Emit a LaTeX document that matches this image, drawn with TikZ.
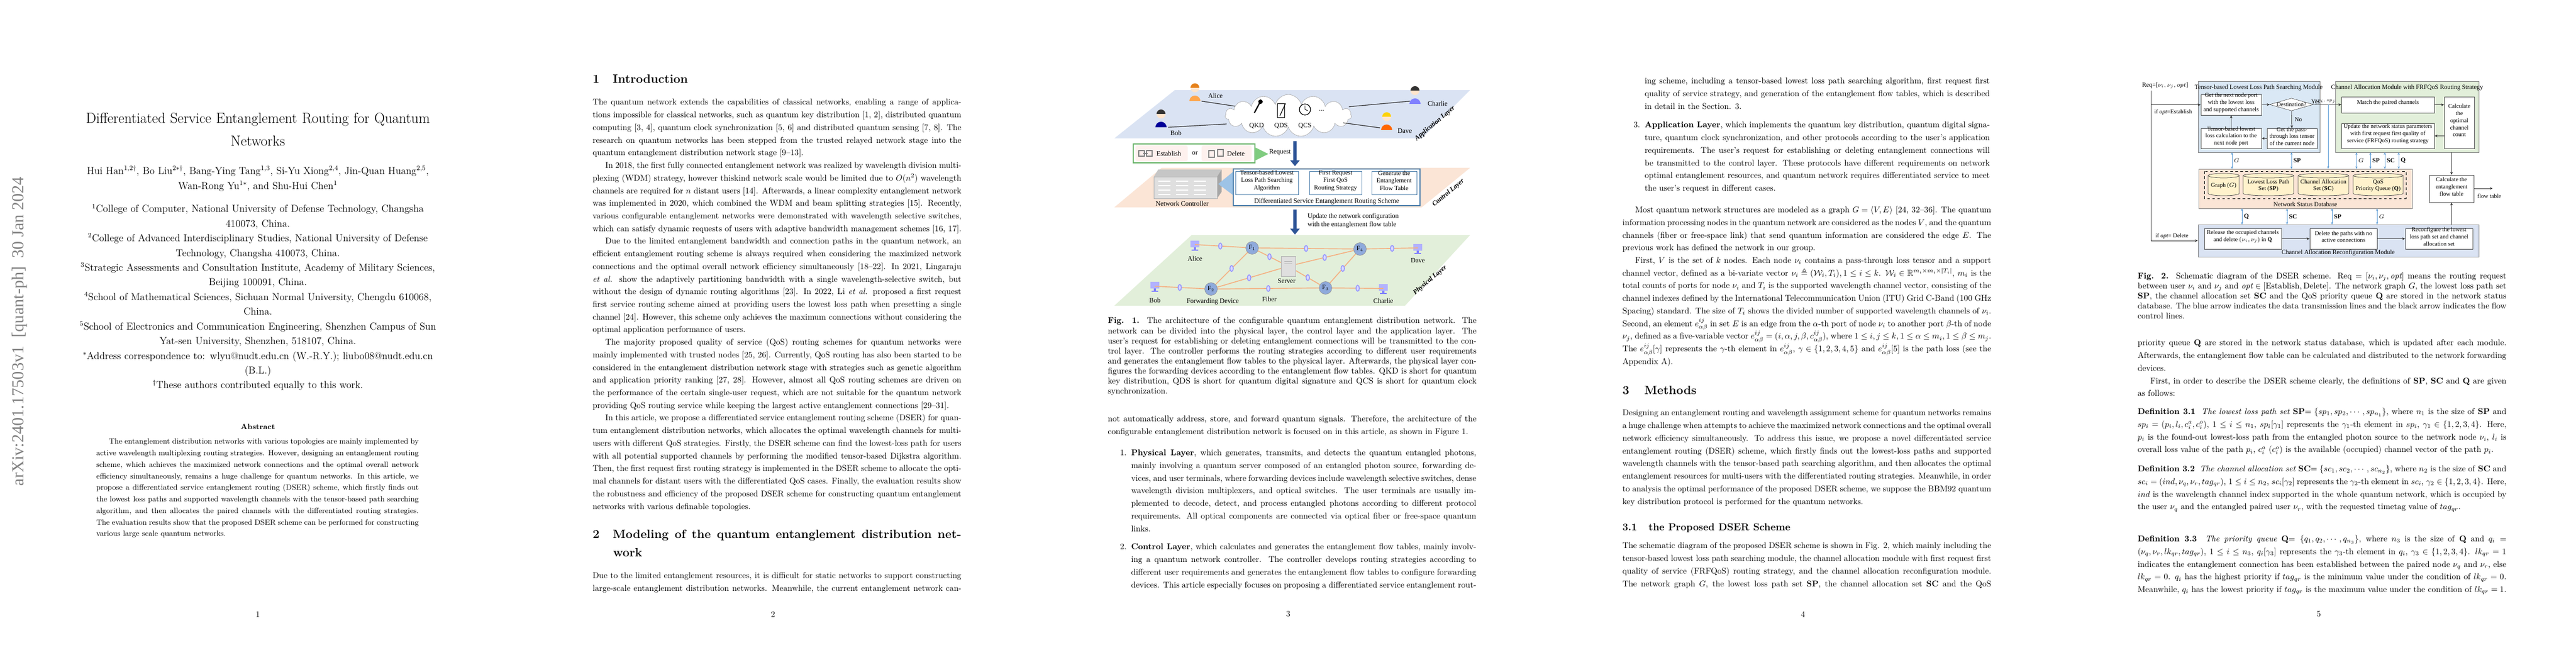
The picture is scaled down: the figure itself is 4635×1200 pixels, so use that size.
\documentclass[tikz,border=0pt]{standalone}
\usepackage{amsmath,amssymb}
\usepackage{fontspec}
\usetikzlibrary{arrows.meta,shapes.geometric,shapes.symbols,fit,positioning}
\newfontfamily\figfont{Liberation Serif}
\newfontfamily\stampfont{Liberation Serif}
\definecolor{appblue}{RGB}{218,227,243}
\definecolor{ctrlpeach}{RGB}{251,229,214}
\definecolor{phygreen}{RGB}{226,239,218}
\definecolor{cylyellow}{RGB}{255,242,204}
\definecolor{modblue}{RGB}{218,232,245}
\definecolor{linkblue}{RGB}{91,155,213}
\definecolor{fiber}{RGB}{244,177,131}
\definecolor{darkarrow}{RGB}{47,85,151}
\tikzset{
  body/.style={anchor=north west, inner sep=0pt, text width=438pt, align=justify, font=\fontsize{10}{15}\selectfont},
  itembody/.style={body, text width=410pt},
  capt/.style={body, font=\fontsize{10}{11.9}\selectfont},
  pnum/.style={inner sep=0pt, font=\fontsize{10}{12}\selectfont},
  sect/.style={anchor=base west, inner sep=0pt, font=\fontsize{14.4}{18}\selectfont\bfseries},
  flab/.style={inner sep=1pt, font=\figfont\fontsize{8}{9.5}\selectfont, align=center},
  fbox/.style={draw=black!70, fill=white, inner sep=0pt, align=center, font=\figfont\fontsize{7}{8.4}\selectfont},
  mtitle/.style={inner sep=0pt, font=\figfont\fontsize{7.5}{9}\selectfont},
  carrow/.style={draw=black!80, line width=0.5pt, -{Stealth[length=3.5pt,width=3pt]}},
  barrow/.style={draw=linkblue, line width=0.6pt, {Stealth[length=3pt,width=2.5pt]}-{Stealth[length=3pt,width=2.5pt]}},
  bigarrow/.style={line width=4pt, draw=darkarrow, -{Triangle[length=7pt,width=11pt]}},
  ulink/.style={draw=black!80, line width=0.8pt},
  flink/.style={draw=fiber, line width=1.1pt},
  router/.style={circle, fill={rgb,255:red,143;green,170;blue,220}, draw=black!40, minimum size=15pt, inner sep=0pt, font=\figfont\fontsize{7.5}{8}\selectfont},
  bulb/.style={ellipse, fill=blue!15, draw=blue!40, minimum width=4pt, minimum height=7pt, inner sep=0pt},
  pinkbox/.style={fill=ctrlpeach!80!red!20, rounded corners=2pt, inner sep=0pt},
  layer/.style={inner sep=0pt, font=\figfont\fontsize{8}{9}\selectfont\bfseries\itshape, rotate=40},
  pics/person/.style n args={2}{code={
    \fill[#1] (-10,24) arc[start angle=180, end angle=360, radius=10] -- cycle;
    \fill[orange!20!white] (0,0) circle (8);
    \fill[#2] (-8,0) arc[start angle=180, end angle=360, radius=8] -- cycle;}},
  pics/pc/.style={code={
    \fill[blue!30] (-8,-14) rectangle (8,-2);
    \fill[blue!50] (-2,-2) rectangle (2,2);
    \fill[blue!50] (-6,2) rectangle (6,4);}}
}
\newcommand{\ind}{\hspace*{15pt}}
\begin{document}
\begin{tikzpicture}[x=0.6602pt, y=-0.6602pt]
\useasboundingbox (0,0) rectangle (4635,1200);
\fill[white] (0,0) rectangle (4635,1200);

% page 1
\begin{scope}
  \node[rotate=90, text=black!50, font=\stampfont\fontsize{20}{20}\selectfont] (stamp) at (35,596) {arXiv:2401.17503v1\ \ [quant-ph]\ \ 30 Jan 2024};
  \node[anchor=north, inner sep=0pt, text width=470pt, align=center, font=\fontsize{17.28}{27}\selectfont] (title) at (464,203)
    {Differentiated Service Entanglement Routing for Quantum\\Networks};
  \node[anchor=north, inner sep=0pt, text width=450pt, align=center, font=\fontsize{12}{17.8}\selectfont] (authors) at (464,298)
    {Hui Han$^{1,2\dagger}$, Bo Liu$^{2*\dagger}$, Bang-Ying Tang$^{1,3}$, Si-Yu Xiong$^{2,4}$, Jin-Quan Huang$^{2,5}$,\\Wan-Rong Yu$^{1*}$, and Shu-Hui Chen$^{1}$};
  \node[anchor=north, inner sep=0pt, text width=450pt, align=center, font=\fontsize{12}{17.45}\selectfont] (affil) at (464,367)
    {$^{1}$College of Computer, National University of Defense Technology, Changsha\\410073, China.\\
     $^{2}$College of Advanced Interdisciplinary Studies, National University of Defense\\Technology, Changsha 410073, China.\\
     $^{3}$Strategic Assessments and Consultation Institute, Academy of Military Sciences,\\Beijing 100091, China.\\
     $^{4}$School of Mathematical Sciences, Sichuan Normal University, Chengdu 610068,\\China.\\
     $^{5}$School of Electronics and Communication Engineering, Shenzhen Campus of Sun\\Yat-sen University, Shenzhen, 518107, China.\\
     $^{*}$Address correspondence to: wlyu@nudt.edu.cn (W.-R.Y.); liubo08@nudt.edu.cn\\(B.L.)\\
     $^{\dagger}$These authors contributed equally to this work.};
  \node[inner sep=0pt, font=\fontsize{9}{11}\selectfont\bfseries] (abshead) at (464,768) {Abstract};
  \node[body, text width=383pt, font=\fontsize{9}{13.7}\selectfont] (abstract) at (173,789)
    {\ind The entanglement distribution networks with various topologies are mainly implemented by active wavelength multiplexing routing strategies. However, designing an entanglement routing scheme, which achieves the maximized network connections and the optimal overall network efficiency simultaneously, remains a huge challenge for quantum networks. In this article, we propose a differentiated service entanglement routing (DSER) scheme, which firstly finds out the lowest loss paths and supported wavelength channels with the tensor-based path searching algorithm, and then allocates the paired channels with the differentiated routing strategies. The evaluation results show that the proposed DSER scheme can be performed for constructing various large scale quantum networks.};
  \node[pnum] (p1) at (464,1105) {1};
\end{scope}

% page 2
\begin{scope}[shift={(927,0)}]
  \node[sect] (s1) at (139,150) {\makebox[24pt][l]{1}Introduction};
  \node[body] (intro) at (139,178)
    {The quantum network extends the capabilities of classical networks, enabling a range of applications impossible for classical networks, such as quantum key distribution [1, 2], distributed quantum computing [3, 4], quantum clock synchronization [5, 6] and distributed quantum sensing [7, 8]. The research on quantum networks has been stepped from the trusted relayed network stage into the quantum entanglement distribution network stage [9--13].\par
    \ind In 2018, the first fully connected entanglement network was realized by wavelength division multiplexing (WDM) strategy, however thiskind network scale would be limited due to $O(n^2)$ wavelength channels are required for $n$ distant users [14]. Afterwards, a linear complexity entanglement network was implemented in 2020, which combined the WDM and beam splitting strategies [15]. Recently, various configurable entanglement networks were demonstrated with wavelength selective switches, which can satisfy dynamic requests of users with adaptive bandwidth management schemes [16, 17].\par
    \ind Due to the limited entanglement bandwidth and connection paths in the quantum network, an efficient entanglement routing scheme is always required when considering the maximized network connections and the optimal overall network efficiency simultaneously [18--22]. In 2021, Lingaraju \emph{et al.} show the adaptively partitioning bandwidth with a single wavelength-selective switch, but without the design of dynamic routing algorithms [23]. In 2022, Li \emph{et al.} proposed a first request first service routing scheme aimed at providing users the lowest loss path when presetting a single channel [24]. However, this scheme only achieves the maximum connections without considering the optimal application performance of users.\par
    \ind The majority proposed quality of service (QoS) routing schemes for quantum networks were mainly implemented with trusted nodes [25, 26]. Currently, QoS routing has also been started to be considered in the entanglement distribution network stage with strategies such as genetic algorithm and application priority ranking [27, 28]. However, almost all QoS routing schemes are driven on the performance of the certain single-user request, which are not suitable for the quantum network providing QoS routing service while keeping the largest active entanglement connections [29--31].\par
    \ind In this article, we propose a differentiated service entanglement routing scheme (DSER) for quantum entanglement distribution networks, which allocates the optimal wavelength channels for multi-users with different QoS strategies. Firstly, the DSER scheme can find the lowest-loss path for users with all potential supported channels by performing the modified tensor-based Dijkstra algorithm. Then, the first request first routing strategy is implemented in the DSER scheme to allocate the optimal channels for distant users with the differentiated QoS cases. Finally, the evaluation results show the robustness and efficiency of the proposed DSER scheme for constructing quantum entanglement networks with various definable topologies.};
  \node[sect] (s2) at (139,968) {\makebox[438pt][s]{\makebox[24pt][l]{2}Modeling of the quantum entanglement distribution net-}};
  \node[sect] (s2b) at (176,1001) {work};
  \node[body] (model) at (139,1030)
    {Due to the limited entanglement resources, it is difficult for static networks to support constructing large-scale entanglement distribution networks. Meanwhile, the current entanglement network can-\parfillskip=0pt\par};
  \node[pnum] (p2) at (464,1105) {2};
\end{scope}

% page 3: figure 1
\begin{scope}[shift={(1854,0)}]
  % layers
  \fill[appblue] (260,162) -- (791,162) -- (704,249) -- (151,249) -- cycle;
  \fill[ctrlpeach] (236,302) -- (791,302) -- (704,373) -- (151,373) -- cycle;
  \fill[phygreen] (290,423) -- (791,423) -- (674,550) -- (151,550) -- cycle;
  \node[layer] (lapp) at (728,222) {Application Layer};
  \node[layer] (lctrl) at (752,347) {Control Layer};
  \node[layer] (lphy) at (719,504) {Physical Layer};
  % application layer
  \node[cloud, cloud puffs=15, aspect=3, draw=gray!70, fill=white, minimum width=150pt, minimum height=50pt] (svc) at (464,208) {};
  \draw[line width=1.5pt] (403,203) -- (412,186);
  \fill (414,183) circle (4);
  \draw[fill=white, line width=0.6pt] (444,186) rectangle (457,211);
  \draw[line width=0.8pt] (449,208) -- (459,186);
  \draw[fill=white, line width=0.8pt] (494,197) circle (10);
  \draw[line width=0.6pt] (494,197) -- (494,190) (494,197) -- (499,199);
  \node[flab] (qkd) at (407,226) {QKD};
  \node[flab] (qds) at (451,226) {QDS};
  \node[flab] (qcs) at (494,226) {QCS};
  \node[flab] (more) at (524,199) {...};
  \pic at (296,158) {person={orange!70}{orange!60!brown}};
  \pic at (235,205) {person={blue!60!black}{black!80}};
  \pic at (692,163) {person={blue!50}{black!80}};
  \pic at (641,210) {person={orange!80!red}{yellow!70!orange}};
  \node[flab, anchor=west] (alice) at (318,172) {Alice};
  \node[flab, anchor=west] (bob) at (250,239) {Bob};
  \node[flab, anchor=west] (charlie) at (713,186) {Charlie};
  \node[flab, anchor=west] (dave) at (659,236) {Dave};
  \coordinate (ua) at (308,182); \coordinate (ca) at (368,191);
  \coordinate (ub) at (248,229); \coordinate (cb) at (353,223);
  \coordinate (uc) at (683,182); \coordinate (cc) at (573,192);
  \coordinate (ud) at (629,230); \coordinate (cd) at (563,221);
  \draw[ulink] (ua) -- (ca);
  \draw[ulink] (ub) -- (cb);
  \draw[ulink] (uc) -- (cc);
  \draw[ulink] (ud) -- (cd);
  % request
  \node[draw=green!50!black!60, line width=1pt, fill=white, inner sep=0pt, fit={(185,259) (404,293)}] (reqbox) {};
  \node[pinkbox, fit={(189,262) (283,290)}] (estb) {};
  \node[pinkbox, fit={(308,262) (398,290)}] (delb) {};
  \draw[gray, line width=0.8pt] (195,271) rectangle (205,281) (209,271) rectangle (219,281) (203,276) -- (211,276);
  \draw[gray, line width=0.8pt] (321,271) rectangle (331,283) (337,269) rectangle (347,281);
  \node[flab, anchor=west] (estl) at (225,276) {Establish};
  \node[flab] (orl) at (296,276) {or};
  \node[flab, anchor=west] (dell) at (352,276) {Delete};
  \fill[green!60!black!50] (404,265) -- (428,277) -- (404,289) -- cycle;
  \node[flab] (reql) at (449,274) {Request};
  \coordinate (r1) at (476,254); \coordinate (r2) at (476,299);
  \draw[bigarrow] (r1) -- (r2);
  % control layer
  \fill[gray!45] (222,318) -- (230,305) -- (344,305) -- (336,318) -- cycle;
  \fill[gray!70] (336,318) -- (344,305) -- (344,345) -- (336,357) -- cycle;
  \node[fill=gray!25, draw=gray!60, inner sep=0pt, fit={(222,318) (336,357)}] (ctrl) {};
  \foreach \yy in {326,334,342,350} {
    \foreach \xx in {230,262,294} {\draw[white, line width=1.2pt] (\xx,\yy) -- (\xx+22,\yy);}}
  \node[flab] (ctrll) at (273,366) {Network Controller};
  \fill[linkblue!60] (338,331) -- (366,308) -- (366,352) -- cycle;
  \node[draw=linkblue!80!black, line width=0.8pt, fill=white, inner sep=0pt, fit={(365,304) (701,370)}] (scheme) {};
  \node[draw=linkblue!80!black, fill=white, inner sep=0pt, align=center, fit={(369,308) (482,350)}, font=\figfont\fontsize{7.5}{9}\selectfont] (tlps) {Tensor-based Lowest\\Loss Path Searching\\Algorithm};
  \node[draw=linkblue!80!black, fill=white, inner sep=0pt, align=center, fit={(502,308) (596,350)}, font=\figfont\fontsize{7.5}{9}\selectfont] (frfq) {First Request\\First QoS\\Routing Strategy};
  \node[draw=linkblue!80!black, fill=white, inner sep=0pt, align=center, fit={(614,308) (695,350)}, font=\figfont\fontsize{7.5}{9}\selectfont] (gen) {Generate the\\Entanglement\\Flow Table};
  \node[flab] (schemel) at (533,363) {Differentiated Service Entanglement Routing Scheme};
  \coordinate (r3) at (476,377); \coordinate (r4) at (476,422);
  \draw[bigarrow] (r3) -- (r4);
  \node[flab, anchor=west, align=left] (updl) at (497,397) {Update the network configuration\\with the entanglement flow table};
  % physical layer
  \node[router] (F1) at (399,446) {F$_1$};
  \node[router] (F4) at (593,448) {F$_4$};
  \node[router] (F2) at (325,520) {F$_2$};
  \node[router] (F3) at (531,518) {F$_3$};
  \node[fill=gray!25, draw=gray!60, minimum width=17pt, minimum height=24pt, inner sep=0pt] (srv) at (464,479) {};
  \node[flab] (srvl) at (461,506) {Server};
  \pic at (296,447) {pc}; \pic at (697,453) {pc}; \pic at (224,521) {pc}; \pic at (635,525) {pc};
  \coordinate (pa) at (296,440); \coordinate (pd) at (697,446);
  \coordinate (pb) at (224,515); \coordinate (pc) at (635,519);
  \node[flab] (alicep) at (296,465) {Alice};
  \node[flab] (davep) at (697,469) {Dave};
  \node[flab] (bobp) at (224,540) {Bob};
  \node[flab] (charliep) at (635,541) {Charlie};
  \node[flab] (fwd) at (328,543) {Forwarding Device};
  \node[flab] (fib) at (430,538) {Fiber};
  \draw[flink] (pa) -- node[bulb]{} (F1);
  \draw[flink] (F1) -- node[bulb]{} (F4);
  \draw[flink] (F4) -- node[bulb]{} (pd);
  \draw[flink] (pb) -- node[bulb]{} (F2);
  \draw[flink] (F2) -- node[bulb]{} (F3);
  \draw[flink] (F3) -- node[bulb]{} (pc);
  \draw[flink] (F1) -- node[bulb]{} (F2);
  \draw[flink] (F4) -- node[bulb]{} (F3);
  \draw[flink] (srv) -- node[bulb]{} (F1);
  \draw[flink] (srv) -- node[bulb]{} (F4);
  \draw[flink] (srv) -- node[bulb]{} (F2);
  \draw[flink] (srv) -- node[bulb]{} (F3);
  \node[router] at (F1) {F$_1$}; \node[router] at (F4) {F$_4$};
  \node[router] at (F2) {F$_2$}; \node[router] at (F3) {F$_3$};
  \node[fill=gray!25, draw=gray!60, minimum width=17pt, minimum height=24pt, inner sep=0pt] at (srv) {};
  \draw[gray!60] (457,470) -- (471,470) (457,474) -- (471,474);
  % text
  \node[capt] (cap1) at (139,571)
    {\textbf{Fig. 1.}\ \ The architecture of the configurable quantum entanglement distribution network. The network can be divided into the physical layer, the control layer and the application layer. The user's request for establishing or deleting entanglement connections will be transmitted to the control layer. The controller performs the routing strategies according to different user requirements and generates the entanglement flow tables to the physical layer. Afterwards, the physical layer configures the forwarding devices according to the entanglement flow tables. QKD is short for quantum key distribution, QDS is short for quantum digital signature and QCS is short for quantum clock synchronization.};
  \node[body] (arch) at (139,748)
    {not automatically address, store, and forward quantum signals. Therefore, the architecture of the configurable entanglement distribution network is focused on in this article, as shown in Figure 1.};
  \node[anchor=north west, inner sep=0pt, font=\fontsize{10}{15}\selectfont] (n1) at (161,809) {1.};
  \node[itembody] (item1) at (181,809)
    {\textbf{Physical Layer}, which generates, transmits, and detects the quantum entangled photons, mainly involving a quantum server composed of an entangled photon source, forwarding devices, and user terminals, where forwarding devices include wavelength selective switches, dense wavelength division multiplexers, and optical switches. The user terminals are usually implemented to decode, detect, and process entangled photons according to different protocol requirements. All optical components are connected via optical fiber or free-space quantum links.};
  \node[anchor=north west, inner sep=0pt, font=\fontsize{10}{15}\selectfont] (n2) at (161,978) {2.};
  \node[itembody] (item2) at (181,978)
    {\textbf{Control Layer}, which calculates and generates the entanglement flow tables, mainly involving a quantum network controller. The controller develops routing strategies according to different user requirements and generates the entanglement flow tables to configure forwarding devices. This article especially focuses on proposing a differentiated service entanglement rout-\parfillskip=0pt\par};
  \node[pnum] (p3) at (464,1105) {3};
\end{scope}

% page 4
\begin{scope}[shift={(2781,0)}]
  \node[itembody] (item2b) at (178,140)
    {ing scheme, including a tensor-based lowest loss path searching algorithm, first request first quality of service strategy, and generation of the entanglement flow tables, which is described in detail in the Section. 3.};
  \node[anchor=north west, inner sep=0pt, font=\fontsize{10}{15}\selectfont] (n3) at (158,219) {3.};
  \node[itembody] (item3) at (178,219)
    {\textbf{Application Layer}, which implements the quantum key distribution, quantum digital signature, quantum clock synchronization, and other protocols according to the user's application requirements. The user's request for establishing or deleting entanglement connections will be transmitted to the control layer. These protocols have different requirements on network optimal entanglement resources, and quantum network requires differentiated service to meet the user's request in different cases.};
  \node[body] (graph) at (138,371)
    {\ind Most quantum network structures are modeled as a graph $G=\langle V,E\rangle$ [24, 32--36]. The quantum information processing nodes in the quantum network are considered as the nodes $V$, and the quantum channels (fiber or free-space link) that send quantum information are considered the edge $E$. The previous work has defined the network in our group.\par
    \ind First, $V$ is the set of $k$ nodes. Each node $\nu_i$ contains a pass-through loss tensor and a support channel vector, defined as a bi-variate vector $\nu_i \triangleq (\mathcal{W}_i,T_i), 1\le i\le k$. $\mathcal{W}_i\in\mathbb{R}^{m_i\times m_i\times|T_i|}$, $m_i$ is the total counts of ports for node $\nu_i$ and $T_i$ is the supported wavelength channel vector, consisting of the channel indexes defined by the International Telecommunication Union (ITU) Grid C-Band (100 GHz Spacing) standard. The size of $T_i$ shows the divided number of supported wavelength channels of $\nu_i$. Second, an element $e^{ij}_{\alpha\beta}$ in set $E$ is an edge from the $\alpha$-th port of node $\nu_i$ to another port $\beta$-th of node $\nu_j$, defined as a five-variable vector $e^{ij}_{\alpha\beta}=(i,\alpha,j,\beta,c^{ij}_{\alpha\beta})$, where $1\le i,j\le k,1\le \alpha\le m_i,1\le\beta\le m_j$. The $e^{ij}_{\alpha\beta}[\gamma]$ represents the $\gamma$-th element in $e^{ij}_{\alpha\beta}$, $\gamma\in\{1,2,3,4,5\}$ and $e^{ij}_{\alpha\beta}[5]$ is the path loss (see the Appendix A).};
  \node[sect] (s3) at (138,709) {\makebox[26pt][l]{3}Methods};
  \node[body] (methods) at (138,737)
    {Designing an entanglement routing and wavelength assignment scheme for quantum networks remains a huge challenge when attempts to achieve the maximized network connections and the optimal overall network efficiency simultaneously. To address this issue, we propose a novel differentiated service entanglement routing (DSER) scheme, which firstly finds out the lowest-loss paths and supported wavelength channels with the tensor-based path searching algorithm, and then allocates the optimal entanglement resources for multi-users with the differentiated routing strategies. Meanwhile, in order to analysis the optimal performance of the proposed DSER scheme, we suppose the BBM92 quantum key distribution protocol is performed for the quantum networks.};
  \node[sect, font=\fontsize{12}{15}\selectfont\bfseries] (s31) at (138,954) {\makebox[31pt][l]{3.1}the Proposed DSER Scheme};
  \node[body] (scheme) at (138,976)
    {The schematic diagram of the proposed DSER scheme is shown in Fig. 2, which mainly including the tensor-based lowest loss path searching module, the channel allocation module with first request first quality of service (FRFQoS) routing strategy, and the channel allocation reconfiguration module. The network graph $G$, the lowest loss path set \textbf{SP}, the channel allocation set \textbf{SC} and the QoS\parfillskip=0pt\par};
  \node[pnum] (p4) at (463,1105) {4};
\end{scope}

% page 5: figure 2
\begin{scope}[shift={(3708,0)}]
  \node[fill=modblue, draw=black!50, inner sep=0pt, fit={(247,146) (466,274)}] (m1) {};
  \node[fill=phygreen, draw=black!50, inner sep=0pt, fit={(494,146) (752,274)}] (m2) {};
  \node[fill=ctrlpeach, draw=black!50, inner sep=0pt, fit={(248,304) (632,375)}] (db) {};
  \node[fill=appblue, draw=black!50, inner sep=0pt, fit={(247,404) (752,462)}] (m3) {};
  \node[mtitle] (m1t) at (356,158) {Tensor-based Lowest Loss Path Searching Module};
  \node[mtitle] (m2t) at (623,158) {Channel Allocation Module with FRFQoS Routing Strategy};
  \node[mtitle] (dbt) at (440,368) {Network Status Database};
  \node[mtitle] (m3t) at (499,455) {Channel Allocation Reconfiguration Module};
  \draw[dashed, line width=0.6pt] (258,308) rectangle (621,357);
  \node[fbox, fit={(252,170) (361,207)}] (a) {Get the next node port\\with the lowest loss\\and supported channels};
  \node[diamond, draw=black!70, fill=white, aspect=3.5, minimum width=52pt, minimum height=15pt, inner sep=0pt, font=\figfont\fontsize{7}{8}\selectfont] (dest) at (415,188) {Destination?};
  \node[fbox, fit={(371,231) (461,267)}] (b) {Get the pass-\\through loss tensor\\of the current node};
  \node[fbox, fit={(252,231) (361,267)}] (c) {Tensor-based lowest\\loss calculation to the\\next node port};
  \node[fbox, fit={(505,174) (672,203)}] (match) {Match the paired channels};
  \node[fbox, fit={(690,174) (744,267)}] (calc) {Calculate\\the\\optimal\\channel\\count};
  \node[fbox, fit={(505,222) (672,267)}] (upd) {Update the network status parameters\\with first request first quality of\\service (FRFQoS) routing strategy};
  \node[fbox, fit={(663,315) (743,364)}] (flow) {Calculate the\\entanglement\\flow table};
  \node[fbox, fit={(258,411) (397,448)}] (rel) {Release the occupied channels\\and delete $(\nu_i,\nu_j)$ in $\mathbf{Q}$};
  \node[fbox, fit={(448,411) (569,448)}] (del) {Delete the paths with no\\active connections};
  \node[fbox, fit={(620,411) (741,448)}] (rec) {Reconfigure the lowest\\loss path set and channel\\allocation set};
  % database cylinders
  \foreach \xa/\xb/\cname/\ctext in {265/321/cg/{Graph ($G$)}, 328/419/csp/{Lowest Loss Path\\Set (\textbf{SP})}, 427/518/csc/{Channel Allocation\\Set (\textbf{SC})}, 526/616/cq/{QoS\\Priority Queue (\textbf{Q})}} {
    \draw[fill=cylyellow, draw=black!70, line width=0.5pt] (\xa,316) -- (\xa,348) arc[start angle=180, end angle=0, x radius={(\xb-\xa)/2}, y radius=4] -- (\xb,316);
    \draw[fill=cylyellow, draw=black!70, line width=0.5pt] ({(\xa+\xb)/2},316) ellipse [x radius={(\xb-\xa)/2}, y radius=4];
    \node[inner sep=0pt, align=center, font=\figfont\fontsize{7}{8.4}\selectfont] (\cname) at ({(\xa+\xb)/2},334) {\ctext};
  }
  % request input
  \node[anchor=west, inner sep=0pt, font=\figfont\fontsize{7.5}{9}\selectfont] (req) at (146,154) {Req=[$\nu_i,\nu_j,opt$]};
  \coordinate (rq) at (162,163);
  \coordinate (est) at (rq |- a.west);
  \draw[black!80, line width=0.5pt] (rq) -- (est);
  \draw[carrow] (est) -- (a.west);
  \draw[carrow] (est) |- (m3.west);
  \node[anchor=west, inner sep=0pt, font=\figfont\fontsize{7}{8}\selectfont] (ifest) at (168,202) {if \textit{opt}=Establish};
  \node[anchor=west, inner sep=0pt, font=\figfont\fontsize{7}{8}\selectfont] (ifdel) at (170,425) {if \textit{opt}= Delete};
  % flow control
  \draw[carrow] (a) -- (dest);
  \draw[carrow] (dest) -- node[pos=0.08, above, inner sep=1pt, font=\figfont\fontsize{7}{8}\selectfont] {Yes} node[pos=0.42, above, inner sep=1pt, font=\fontsize{5.5}{6}\selectfont] {$sp_i,sp_j$} (match);
  \draw[carrow] (dest) -- node[right, font=\figfont\fontsize{7}{8}\selectfont] {No} (b);
  \draw[carrow] (b) -- (c);
  \draw[carrow] (c) -- (a);
  \draw[carrow] (match.east) -- (calc.west |- match.east);
  \draw[carrow] (calc.west |- upd.east) -- (upd.east);
  \draw[carrow] (m2.south -| flow.north) -- (flow.north);
  \draw[carrow] (m3.north -| flow.south) -- (flow.south);
  \coordinate (ft) at (777,339);
  \draw[carrow] (flow.east |- ft) -- (ft);
  \node[inner sep=0pt, font=\figfont\fontsize{7}{8}\selectfont] (ftl) at (771,353) {flow table};
  \draw[carrow] (rel) -- (del);
  \draw[carrow] (del) -- (rec);
  % data lines
  \coordinate (spj) at (481,188);
  \draw[linkblue, line width=0.6pt, -{Stealth[length=3pt,width=2.5pt]}] (spj) -- (spj |- db.north);
  \foreach \xx/\lab in {308/$G$, 415/\textbf{SP}} {
    \draw[barrow] (\xx,274) -- (\xx,304) node[midway, right, inner sep=2pt, font=\figfont\fontsize{7.5}{8}\selectfont] {\lab};}
  \foreach \xx/\lab in {532/$G$, 557/\textbf{SP}, 583/\textbf{SC}, 608/\textbf{Q}} {
    \draw[barrow] (\xx,274) -- (\xx,304) node[midway, right, inner sep=2pt, font=\figfont\fontsize{7.5}{8}\selectfont] {\lab};}
  \foreach \xx/\lab in {326/\textbf{Q}, 407/\textbf{SC}, 488/\textbf{SP}, 569/$G$} {
    \draw[barrow] (\xx,375) -- (\xx,404) node[midway, right, inner sep=2pt, font=\figfont\fontsize{7.5}{8}\selectfont] {\lab};}
  % text
  \node[capt] (cap2) at (138,490)
    {\textbf{Fig. 2.}\ \ Schematic diagram of the DSER scheme. Req $=[\nu_i,\nu_j,\mathit{opt}]$ means the routing request between user $\nu_i$ and $\nu_j$ and $\mathit{opt}\in[\text{Establish},\text{Delete}]$. The network graph $G$, the lowest loss path set \textbf{SP}, the channel allocation set \textbf{SC} and the QoS priority queue \textbf{Q} are stored in the network status database. The blue arrow indicates the data transmission lines and the black arrow indicates the flow control lines.};
  \node[body] (db2) at (138,611)
    {priority queue \textbf{Q} are stored in the network status database, which is updated after each module. Afterwards, the entanglement flow table can be calculated and distributed to the network forwarding devices.\par
    \ind First, in order to describe the DSER scheme clearly, the definitions of \textbf{SP}, \textbf{SC} and \textbf{Q} are given as follows:};
  \node[body] (def1) at (138,734)
    {\textbf{Definition 3.1}\ \ \emph{The lowest loss path set} \textbf{SP}$=\{sp_1,sp_2,\cdots,sp_{n_1}\}$, where $n_1$ is the size of \textbf{SP} and $sp_i=(p_i,l_i,c^a_i,c^o_i)$, $1\le i\le n_1$, $sp_i[\gamma_1]$ represents the $\gamma_1$-th element in $sp_i$, $\gamma_1\in\{1,2,3,4\}$. Here, $p_i$ is the found-out lowest-loss path from the entangled photon source to the network node $\nu_i$, $l_i$ is overall loss value of the path $p_i$, $c^a_i$ ($c^o_i$) is the available (occupied) channel vector of the path $p_i$.};
  \node[body] (def2) at (138,837)
    {\textbf{Definition 3.2}\ \ \emph{The channel allocation set} \textbf{SC}$=\{sc_1,sc_2,\cdots,sc_{n_2}\}$, where $n_2$ is the size of \textbf{SC} and $sc_i=(ind,\nu_q,\nu_r,tag_{qr})$, $1\le i\le n_2$, $sc_i[\gamma_2]$ represents the $\gamma_2$-th element in $sc_i$, $\gamma_2\in\{1,2,3,4\}$. Here, $ind$ is the wavelength channel index supported in the whole quantum network, which is occupied by the user $\nu_q$ and the entangled paired user $\nu_r$, with the requested timetag value of $tag_{qr}$.};
  \node[body] (def3) at (138,963)
    {\textbf{Definition 3.3}\ \ \emph{The priority queue} \textbf{Q}$=\{q_1,q_2,\cdots,q_{n_3}\}$, where $n_3$ is the size of \textbf{Q} and $q_i=(\nu_q,\nu_r,lk_{qr},tag_{qr})$, $1\le i\le n_3$, $q_i[\gamma_3]$ represents the $\gamma_3$-th element in $q_i$, $\gamma_3\in\{1,2,3,4\}$. $lk_{qr}=1$ indicates the entanglement connection has been established between the paired node $\nu_q$ and $\nu_r$, else $lk_{qr}=0$. $q_i$ has the highest priority if $tag_{qr}$ is the minimum value under the condition of $lk_{qr}=0$. Meanwhile, $q_i$ has the lowest priority if $tag_{qr}$ is the maximum value under the condition of $lk_{qr}=1$.};
  \node[pnum] (p5) at (464,1105) {5};
\end{scope}
\end{tikzpicture}
\end{document}
